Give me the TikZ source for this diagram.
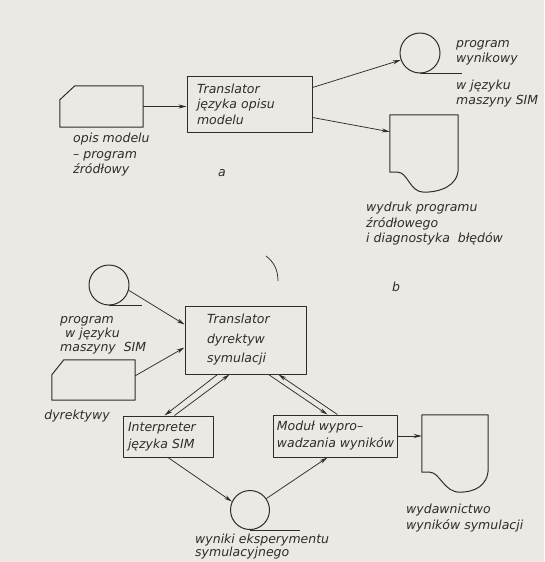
\documentclass[tikz,border=0pt]{standalone}
\usepackage{fontspec}
\setmainfont{DejaVu Sans}
\usetikzlibrary{arrows.meta,calc,positioning}
\definecolor{paper}{RGB}{234,233,228}
\definecolor{ink}{RGB}{45,45,45}
\newcommand\lett[1][15.5]{\itshape\fontsize{12.5}{#1}\selectfont}

\begin{document}
\begin{tikzpicture}[
    x=1pt, y=-1pt, line join=round,
    box/.style={rectangle, draw=ink, line width=1pt, font=\lett, text=ink,
                align=left, inner ysep=2pt},
    frame/.style={rectangle, inner sep=0pt},
    tape/.style={circle, draw=ink, line width=1pt, minimum size=40pt, inner sep=0pt},
    lbl/.style={font=\lett, text=ink, align=left, inner sep=0pt},
    outline/.style={draw=ink, line width=1pt},
    arrow/.style={-{Stealth[length=8pt,width=4pt]}, draw=ink, line width=0.75pt}
]
\useasboundingbox (0,0) rectangle (544,562);
\fill[paper] (0,0) rectangle (544,562);

% a
\node[frame, minimum width=83pt, minimum height=41pt] (srcA) at (101.5,106.5) {};
\draw[outline] (srcA.south west) -- ($(srcA.north west)+(0,14)$) -- ($(srcA.north west)+(15,0)$)
    -- (srcA.north east) -- (srcA.south east) -- cycle;
\node[box, text width=105pt, inner xsep=10pt, minimum height=56pt] (transA) at (249.5,104)
    {Translator\\języka opisu\\modelu};
\node[tape] (outA) at (420,53) {};
\draw[outline] (outA.south) -- ++(42,0);
\node[frame, minimum width=68pt, minimum height=57pt] (prnA) at (424,143.5) {};
\draw[outline] (prnA.south west) -- (prnA.north west) -- (prnA.north east) -- ($(prnA.south east)+(0,-4)$)
    .. controls ($(prnA.south east)+(0,14)$) and ($(prnA.south west)+(50,20)$) .. ($(prnA.south west)+(34,20)$)
    .. controls ($(prnA.south west)+(20,20)$) and ($(prnA.south west)+(18,0)$) .. ($(prnA.south west)+(8,0)$)
    -- cycle;

\node[lbl, anchor=west] (outAtxt) at (456,53) {program\\wynikowy};
\node[lbl, anchor=west] (langA) at (456,93.5) {w języku\\maszyny SIM};
\node[lbl, anchor=west] (srcAtxt) at (73,155) {opis modelu\\– program\\źródłowy};
\node[lbl] (capA) at (222,173) {a};
\node[lbl, anchor=west] (prnAtxt) at (366,224) {wydruk programu\\źródłowego\\i diagnostyka\ \ błędów};

\draw[arrow] (srcA.east) -- (srcA.east -| transA.west);
\draw[arrow] ($(transA.north east)+(0,12)$) -- (outA.200);
\draw[arrow] ($(transA.south east)+(0,-15)$) -- ($(prnA.north west)+(0,17)$);
\draw[ink, line width=0.75pt] (266,256) .. controls (274,262) and (278,270) .. (278,281);

% b
\node[tape] (progB) at (109,285) {};
\draw[outline] (progB.south) -- ++(33,0);
\node[lbl] (capB) at (396,287) {b};
\node[box, text width=77pt, inner xsep=22pt, minimum height=68pt, font={\lett[19.5]}] (transB) at (245.5,340)
    {Translator\\dyrektyw\\symulacji};
\node[frame, minimum width=83pt, minimum height=40pt] (dirB) at (93.5,380) {};
\draw[outline] (dirB.south west) -- ($(dirB.north west)+(0,15)$) -- ($(dirB.north west)+(12,0)$)
    -- (dirB.north east) -- (dirB.south east) -- cycle;
\node[lbl, anchor=west, font={\lett[14]}] (progBtxt) at (60,335) {program\\\hspace{5pt}w języku\\maszyny\ \ SIM};
\node[lbl] (dirBtxt) at (77,416) {dyrektywy};
\node[box, text width=80pt, inner xsep=5pt, minimum height=41pt, font={\lett[17]}] (interp) at (168,436.5)
    {Interpreter\\języka SIM};
\node[box, inner xsep=3pt, minimum width=119pt, minimum height=42pt, font={\lett[17]}] (modul) at (335.5,436)
    {Moduł wypro–\\wadzania wyników};
\node[frame, minimum width=66pt, minimum height=57pt] (pubB) at (455,443.5) {};
\draw[outline] (pubB.south west) -- (pubB.north west) -- (pubB.north east) -- ($(pubB.south east)+(0,-4)$)
    .. controls ($(pubB.south east)+(0,14)$) and ($(pubB.south west)+(52,20)$) .. ($(pubB.south west)+(38,20)$)
    .. controls ($(pubB.south west)+(22,20)$) and ($(pubB.south west)+(18,0)$) .. ($(pubB.south west)+(8,0)$)
    -- cycle;
\node[lbl, anchor=west] (pubBtxt) at (406,518) {wydawnictwo\\wyników symulacji};
\node[tape, minimum size=39pt] (resB) at (250,510) {};
\draw[outline] (resB.south) -- ++(50,0);
\node[lbl, anchor=west, font={\lett[13]}] (resBtxt) at (195,546.5) {wyniki eksperymentu\\symulacyjnego};

\draw[arrow] (progB.-15) -- ($(transB.north west)+(0,19)$);
\draw[arrow] ($(dirB.north east)+(0,16)$) -- ($(transB.south west)+(0,-27)$);
\draw[arrow] ($(transB.south west)+(33,0)$) -- ($(interp.north west)+(42,0)$);
\draw[arrow] ($(interp.north west)+(52,0)$) -- ($(transB.south west)+(45,0)$);
\draw[arrow] ($(transB.south east)+(-38,0)$) -- ($(modul.north west)+(54,0)$);
\draw[arrow] ($(modul.north west)+(64,0)$) -- ($(transB.south east)+(-28,0)$);
\draw[arrow] (modul.east) -- (modul.east -| pubB.west);
\draw[arrow] (interp.south) -- (resB.155);
\draw[arrow] (resB.35) -- ($(modul.south west)+(54,0)$);
\end{tikzpicture}
\end{document}
